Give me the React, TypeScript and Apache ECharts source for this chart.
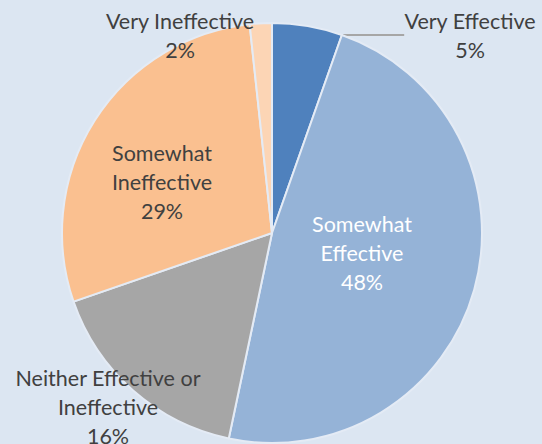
import React, { useEffect, useRef } from "react";
import * as echarts from "echarts";

const categories = [
  "Very Effective",
  "Somewhat Effective",
  "Neither Effective or Ineffective",
  "Somewhat Ineffective",
  "Very Ineffective",
];
const values = [5.4, 47.9, 16.4, 28.6, 1.7];
const colors = ["#4f81bd", "#95b3d7", "#a6a6a6", "#fac090", "#fcd5b5"];
const labelText = [
  "Very Effective",
  "Somewhat\nEffective",
  "Neither Effective or\nIneffective",
  "Somewhat\nIneffective",
  "Very Ineffective",
];
// label anchor positions (layout/style)
const labelPos: [number, number][] = [
  [470, 35],
  [362, 253],
  [108, 407],
  [162, 182],
  [180, 35],
];

export default function App() {
  const ref = useRef<HTMLDivElement>(null);
  useEffect(() => {
    document.body.style.margin = "0";
    const chart = echarts.init(ref.current!, null, { renderer: "svg" });
    chart.setOption({
      animation: false,
      backgroundColor: "#dce6f2",
      series: [
        {
          type: "pie",
          center: [272, 233],
          radius: 210,
          startAngle: 90,
          clockwise: true,
          percentPrecision: 0,
          itemStyle: { borderColor: "#e4ebf5", borderWidth: 2 },
          label: {
            show: true,
            position: "inside",
            fontFamily: "Lato",
            fontSize: 21.5,
            lineHeight: 29,
            color: "#404040",
            align: "center",
            formatter: (p: any) => `${labelText[p.dataIndex]}\n${p.percent}%`,
          },
          labelLine: { show: false },
          labelLayout: (params: any) => {
            const i = params.dataIndex;
            const res: any = {
              x: labelPos[i][0],
              y: labelPos[i][1],
              align: "center",
              verticalAlign: "middle",
            };
            if (i === 0) {
              res.labelLinePoints = [
                [308, 27],
                [354, 27],
                [400, 27],
              ];
            }
            return res;
          },
          data: categories.map((c, i) => ({
            name: c,
            value: values[i],
            itemStyle: { color: colors[i] },
            label: i === 1 ? { color: "#ffffff" } : undefined,
            labelLine:
              i === 0
                ? { show: true, lineStyle: { color: "#a6a6a6", width: 2 } }
                : undefined,
          })),
        },
      ],
    });
    return () => chart.dispose();
  }, []);
  return <div ref={ref} style={{ width: 542, height: 444 }} />;
}
